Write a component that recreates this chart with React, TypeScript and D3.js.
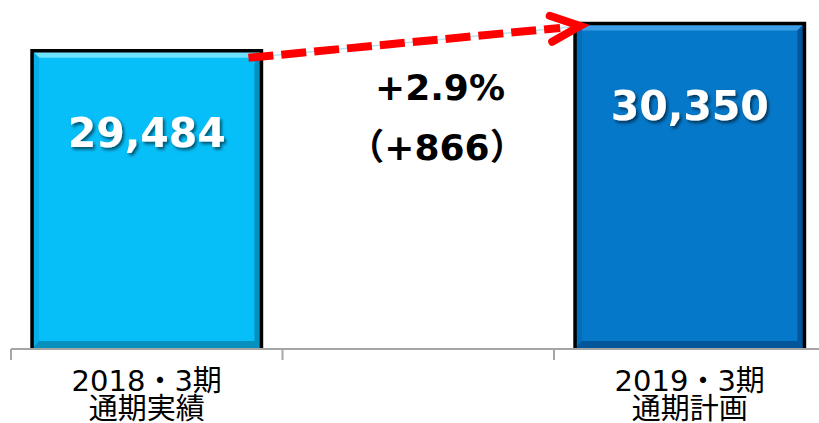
import React from "react";
import * as d3 from "d3";

const categories = ["2018・3期|通期実績", "", "2019・3期|通期計画"];
const values: (number | null)[] = [29484, null, 30350];
const valueLabels = ["29,484", "", "30,350"];
const changeLabels = ["+2.9%", "（+866）"];
const barColors = ["#06BEF8", "", "#0678C9"];
const bevelLight = ["#6FE2FF", "", "#3B9EE6"];
const bevelSide = ["#05AEE8", "", "#056CB8"];
const bevelDark = ["#0590BE", "", "#04559A"];

const W = 819;
const H = 423;

export default function App() {
  const keys = categories.map((c, i) => i + ":" + c);
  const x = d3.scaleBand<string>().domain(keys).range([11, 11 + 3 * 271.5]).padding(0);
  const y = d3.scaleLinear().domain([20000, 31000]).range([349, 2]);
  const step = x.step();
  const bw = step * 0.845;
  const b = 7;

  const bars = values.map((v, i) => {
    if (v == null) return null;
    const cx = (x(keys[i]) as number) + step / 2;
    const x0 = cx - bw / 2;
    const x1 = cx + bw / 2;
    const y0 = y(v) + 1;
    const y1 = y(20000) - 1;
    return { i, v, cx, x0, x1, y0, y1 };
  });

  const left = bars[0]!;
  const right = bars[2]!;
  const ax0 = left.x1 - 13;
  const ay0 = left.y0 + 7;
  const ax1 = right.x0 + 5;
  const ay1 = right.y0 + 2.5;
  const ang = Math.atan2(ay1 - ay0, ax1 - ax0);
  const headLen = 32;
  const headAng = 0.42;
  const h1x = ax1 - headLen * Math.cos(ang - headAng);
  const h1y = ay1 - headLen * Math.sin(ang - headAng);
  const h2x = ax1 - headLen * Math.cos(ang + headAng);
  const h2y = ay1 - headLen * Math.sin(ang + headAng);
  const dashEndX = ax1 - 20 * Math.cos(ang);
  const dashEndY = ay1 - 20 * Math.sin(ang);

  const tickXs = keys.map((k) => x(k) as number).concat([(x(keys[2]) as number) + step]);
  const line = d3.line();

  return (
    <svg width={W} height={H} style={{ position: "absolute", left: 0, top: 0, display: "block" }}>
      <defs>
        <filter id="ts" x="-20%" y="-20%" width="140%" height="160%">
          <feDropShadow dx="2" dy="2.5" stdDeviation="1.5" floodColor="#000" floodOpacity="0.55" />
        </filter>
      </defs>
      <rect x={0} y={0} width={W} height={H} fill="#fff" />
      {bars.map((bar) => {
        if (!bar) return null;
        const { i, x0, x1, y0, y1 } = bar;
        const pts = (arr: [number, number][]) => arr.map((p) => p.join(",")).join(" ");
        return (
          <g key={i}>
            <rect x={x0} y={y0} width={x1 - x0} height={y1 - y0} fill={barColors[i]} />
            <polygon points={pts([[x0, y0], [x1, y0], [x1 - b, y0 + b], [x0 + b, y0 + b]])} fill={bevelLight[i]} />
            <polygon points={pts([[x0, y0], [x0 + b, y0 + b], [x0 + b, y1 - b], [x0, y1]])} fill={bevelSide[i]} />
            <polygon points={pts([[x1, y0], [x1 - b, y0 + b], [x1 - b, y1 - b], [x1, y1]])} fill={bevelDark[i]} />
            <polygon points={pts([[x0, y1], [x0 + b, y1 - b], [x1 - b, y1 - b], [x1, y1]])} fill={bevelDark[i]} />
            <path
              d={line([[x0, y1], [x0, y0], [x1, y0], [x1, y1]]) || ""}
              fill="none"
              stroke="#000"
              strokeWidth={3.5}
              strokeLinejoin="miter"
            />
            <text
              x={bar.cx}
              y={y0 + 96}
              textAnchor="middle"
              fontFamily="'DejaVu Sans', Verdana, sans-serif"
              fontWeight="bold"
              fontSize={41}
              fill="#fff"
              filter="url(#ts)"
            >
              {valueLabels[i]}
            </text>
          </g>
        );
      })}
      {/* axis */}
      <line x1={11} x2={W} y1={349} y2={349} stroke="#a6a6a6" strokeWidth={2} />
      {tickXs.map((tx, i) => (
        <line key={i} x1={tx} x2={tx} y1={349} y2={360} stroke="#a6a6a6" strokeWidth={2} />
      ))}
      {categories.map((c, i) => {
        if (!c) return null;
        const cx = (x(keys[i]) as number) + step / 2;
        const lines = c.split("|");
        return (
          <text
            key={i}
            x={cx}
            textAnchor="middle"
            fontFamily="'DejaVu Sans', 'Noto Sans CJK JP', sans-serif"
            fontSize={29}
            fill="#000"
          >
            {lines.map((l, j) => (
              <tspan key={j} x={cx} y={391 + j * 28}>
                {l}
              </tspan>
            ))}
          </text>
        );
      })}
      {/* connector & arrow */}
      <line x1={ax0} y1={ay0} x2={ax1} y2={ay1} stroke="#B9E2EA" strokeWidth={1.5} />
      <line
        x1={ax0}
        y1={ay0}
        x2={dashEndX}
        y2={dashEndY}
        stroke="#FF0000"
        strokeWidth={8}
        strokeDasharray="25 8"
      />
      <path
        d={line([[h1x, h1y], [ax1, ay1], [h2x, h2y]]) || ""}
        fill="none"
        stroke="#FF0000"
        strokeWidth={8}
        strokeLinecap="round"
        strokeLinejoin="miter"
      />
      {/* change labels */}
      <text
        x={440}
        y={100}
        textAnchor="middle"
        fontFamily="'DejaVu Sans', 'Noto Sans CJK JP', sans-serif"
        fontWeight="bold"
        fontSize={36}
        fill="#000"
      >
        {changeLabels[0]}
      </text>
      <text
        x={437}
        y={160}
        textAnchor="middle"
        fontFamily="'DejaVu Sans', 'Noto Sans CJK JP', sans-serif"
        fontWeight="bold"
        fontSize={36}
        fill="#000"
      >
        {changeLabels[1]}
      </text>
    </svg>
  );
}
